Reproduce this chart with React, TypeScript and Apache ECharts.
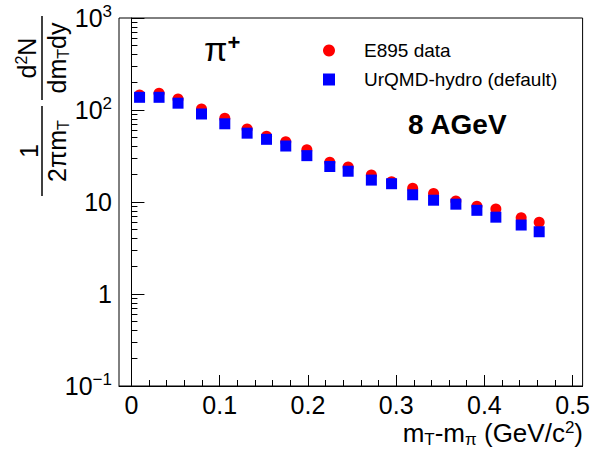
import React, { useEffect, useRef } from "react";
import * as echarts from "echarts";

// m_T - m_pi bin centres (GeV/c^2)
const mtBins = [
  0.0092, 0.0313, 0.0528, 0.0794, 0.1058, 0.1311, 0.1531, 0.1749, 0.1988, 0.2248,
  0.2456, 0.2719, 0.2948, 0.3187, 0.3424, 0.3677, 0.3915, 0.413, 0.4417, 0.4621,
];
// E895 measured spectrum
const e895Data = [
  145.5, 152, 131.7, 102.5, 81.2, 62.2, 51.8, 45.2, 37.0, 27.0,
  24.0, 19.7, 16.6, 14.1, 12.4, 10.25, 8.98, 8.39, 6.75, 6.02,
];
// UrQMD-hydro (default) prediction
const urqmdData = [
  137.4, 137.4, 118.6, 90.5, 70.8, 56.0, 48.0, 40.6, 31.9, 24.3,
  21.6, 17.3, 15.8, 11.98, 10.46, 9.47, 8.12, 6.84, 5.62, 4.75,
];

const xMajorTicks = [0, 0.1, 0.2, 0.3, 0.4, 0.5];
const xMinorTicks = [
  0.02, 0.04, 0.06, 0.08, 0.12, 0.14, 0.16, 0.18, 0.22, 0.24, 0.26, 0.28,
  0.32, 0.34, 0.36, 0.38, 0.42, 0.44, 0.46, 0.48,
];
const yMajorTicks = [0.1, 1, 10, 100, 1000];
const yMajorLabels = ["{b|10}{s|\u22121}", "{b|1}", "{b|10}", "{b|10}{s|2}", "{b|10}{s|3}"];
const yMinorTicks = [
  0.2, 0.3, 0.4, 0.5, 0.6, 0.7, 0.8, 0.9,
  2, 3, 4, 5, 6, 7, 8, 9,
  20, 30, 40, 50, 60, 70, 80, 90,
  200, 300, 400, 500, 600, 700, 800, 900,
];

const X_MIN = -0.0141;
const X_MAX = 0.5113;
const FONT = '"Liberation Sans", Arial, Helvetica, sans-serif';

export default function App() {
  const ref = useRef<HTMLDivElement>(null);

  useEffect(() => {
    if (!ref.current) return;
    const chart = echarts.init(ref.current, undefined, { renderer: "svg" });

    const axisBase = {
      type: "value" as const,
      min: X_MIN,
      max: X_MAX,
      position: "bottom" as const,
      splitLine: { show: false },
    };

    const yBase = {
      type: "log" as const,
      logBase: 10,
      min: 0.1,
      max: 1000,
      position: "left" as const,
      splitLine: { show: false },
    };

    const sub = { fontSize: 16, lineHeight: 12, verticalAlign: "bottom", fontFamily: FONT, fill: "#000" };
    const sup = { fontSize: 16, lineHeight: 16, verticalAlign: "top", fontFamily: FONT, fill: "#000" };
    const main = { fontSize: 25, lineHeight: 28, fontFamily: FONT, fill: "#000" };
    const mainX = { fontSize: 26, lineHeight: 29, fontFamily: FONT, fill: "#000" };
    const subX = { fontSize: 17, lineHeight: 12, verticalAlign: "bottom", fontFamily: FONT, fill: "#000" };
    const supX = { fontSize: 17, lineHeight: 17, verticalAlign: "top", fontFamily: FONT, fill: "#000" };

    chart.setOption({
      animation: false,
      backgroundColor: "#fff",
      grid: {
        left: 119,
        right: 10,
        top: 18,
        bottom: 69,
        show: true,
        borderColor: "#000",
        borderWidth: 1,
        backgroundColor: "transparent",
      },
      xAxis: [
        {
          ...axisBase,
          axisLine: { show: true, lineStyle: { color: "#000", width: 1 } },
          axisTick: { show: true, inside: true, length: 11, customValues: xMajorTicks, lineStyle: { color: "#000" } },
          axisLabel: {
            show: true,
            customValues: xMajorTicks,
            margin: 6,
            fontSize: 25,
            fontFamily: FONT,
            color: "#000",
            formatter: (v: number) => String(Math.round(v * 10) / 10),
          },
        },
        {
          ...axisBase,
          axisLine: { show: false },
          axisTick: { show: true, inside: true, length: 6, customValues: xMinorTicks, lineStyle: { color: "#000" } },
          axisLabel: { show: false },
        },
      ],
      yAxis: [
        {
          ...yBase,
          axisLine: { show: true, lineStyle: { color: "#000", width: 1 } },
          axisTick: { show: true, inside: true, length: 13, customValues: yMajorTicks, lineStyle: { color: "#000" } },
          axisLabel: {
            show: true,
            customValues: yMajorTicks,
            margin: 7,
            formatter: (v: number) => {
              const i = yMajorTicks.findIndex((t) => Math.abs(Math.log10(t) - Math.log10(v)) < 1e-6);
              return i >= 0 ? yMajorLabels[i] : "";
            },
            rich: {
              b: { fontSize: 25, lineHeight: 30, fontFamily: FONT, color: "#000" },
              s: { fontSize: 17, lineHeight: 17, verticalAlign: "top", fontFamily: FONT, color: "#000" },
            },
          },
        },
        {
          ...yBase,
          axisLine: { show: false },
          axisTick: { show: true, inside: true, length: 6, customValues: yMinorTicks, lineStyle: { color: "#000" } },
          axisLabel: { show: false },
        },
      ],
      legend: {
        show: true,
        orient: "vertical",
        left: 318,
        top: 36,
        itemWidth: 12,
        itemHeight: 12,
        itemGap: 10,
        data: [
          { name: "E895 data", icon: "circle" },
          { name: "UrQMD-hydro (default)", icon: "rect" },
        ],
        textStyle: { fontSize: 19, fontFamily: FONT, color: "#000", padding: [0, 0, 0, 24] },
      },
      series: [
        {
          name: "E895 data",
          type: "scatter",
          xAxisIndex: 0,
          yAxisIndex: 0,
          symbol: "circle",
          symbolSize: 11,
          itemStyle: { color: "#ff0000", opacity: 1 },
          data: mtBins.map((x, i) => [x, e895Data[i]]),
        },
        {
          name: "UrQMD-hydro (default)",
          type: "scatter",
          xAxisIndex: 0,
          yAxisIndex: 0,
          symbol: "rect",
          symbolSize: 11,
          itemStyle: { color: "#0000ff", opacity: 1 },
          data: mtBins.map((x, i) => [x, urqmdData[i]]),
        },
      ],
      graphic: [
        {
          type: "text",
          left: 204,
          top: 31,
          style: {
            text: "{p|\u03c0}{s|+}",
            rich: {
              p: { fontSize: 34, lineHeight: 36, fontFamily: FONT, fill: "#000" },
              s: { fontSize: 22, lineHeight: 22, fontWeight: "bold", verticalAlign: "top", fontFamily: FONT, fill: "#000" },
            },
          },
        },
        {
          type: "text",
          left: 408,
          top: 110,
          style: { text: "8 AGeV", font: `bold 28px ${FONT}`, fill: "#000" },
        },
        {
          type: "text",
          x: 583,
          y: 433,
          style: {
            text: "{a|m}{sub|T}{a|-m}{sub|\u03c0}{a| (GeV/c}{sup|2}{a|)}",
            align: "right",
            verticalAlign: "middle",
            rich: { a: mainX, sub: subX, sup: supX },
          },
        },
        {
          type: "group",
          x: 42,
          y: 196,
          rotation: Math.PI / 2,
          children: [
            { type: "line", shape: { x1: 0, y1: 0, x2: 90, y2: 0 }, style: { stroke: "#000", lineWidth: 1.5 } },
            {
              type: "text",
              x: 45,
              y: -1,
              style: { text: "1", font: `25px ${FONT}`, fill: "#000", align: "center", verticalAlign: "bottom" },
            },
            {
              type: "text",
              x: 45,
              y: 1,
              style: {
                text: "{a|2\u03c0m}{sub|T}",
                align: "center",
                verticalAlign: "top",
                rich: { a: main, sub },
              },
            },
            { type: "line", shape: { x1: 96, y1: 0, x2: 180, y2: 0 }, style: { stroke: "#000", lineWidth: 1.5 } },
            {
              type: "text",
              x: 138,
              y: -1,
              style: {
                text: "{a|d}{sup|2}{a|N}",
                align: "center",
                verticalAlign: "bottom",
                rich: { a: main, sup },
              },
            },
            {
              type: "text",
              x: 138,
              y: 1,
              style: {
                text: "{a|dm}{sub|T}{a|dy}",
                align: "center",
                verticalAlign: "top",
                rich: { a: main, sub },
              },
            },
          ],
        },
      ],
    });

    return () => chart.dispose();
  }, []);

  return <div ref={ref} style={{ width: 593, height: 455, position: "absolute", left: 0, top: 0 }} />;
}
